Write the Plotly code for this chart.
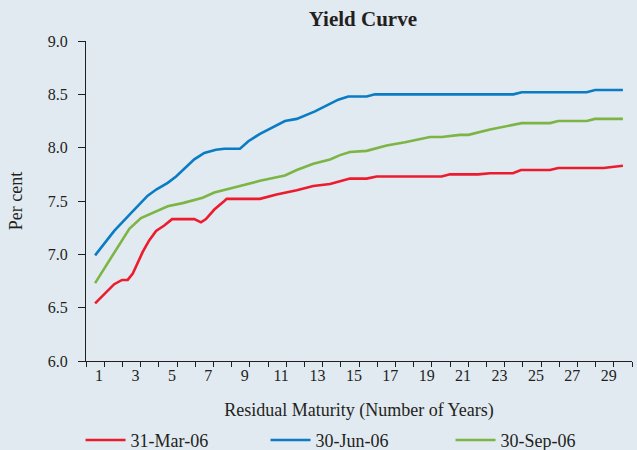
import plotly.graph_objects as go

# Residual maturity (years) and yields (per cent)
mar_x = [1.0, 1.51, 2.05, 2.48, 2.79, 3.07, 3.61, 3.97, 4.35, 4.80, 5.23, 6.45, 6.82, 7.09,
         7.55, 8.10, 8.23, 10.06, 10.97, 12.08, 12.99, 13.91, 15.0, 15.92, 16.47, 20.04,
         20.5, 22.05, 22.7, 23.96, 24.4, 25.99, 26.45, 28.93, 30.0]
mar_y = [6.54, 6.63, 6.72, 6.76, 6.76, 6.82, 7.02, 7.13, 7.22, 7.27, 7.33, 7.33, 7.30, 7.33,
         7.42, 7.50, 7.52, 7.52, 7.56, 7.60, 7.64, 7.66, 7.71, 7.71, 7.73, 7.73,
         7.75, 7.75, 7.76, 7.76, 7.79, 7.79, 7.81, 7.81, 7.83]

jun_x = [1.0, 2.05, 2.88, 3.89, 4.38, 4.99, 5.45, 5.99, 6.45, 7.0, 7.64, 8.10, 8.96, 9.42,
         10.06, 11.43, 12.08, 13.08, 14.36, 14.91, 15.92, 16.38, 23.98, 24.44, 28.01, 28.47, 30.0]
jun_y = [6.99, 7.22, 7.37, 7.55, 7.61, 7.67, 7.73, 7.82, 7.89, 7.95, 7.98, 7.99, 7.99, 8.06,
         8.13, 8.25, 8.27, 8.34, 8.45, 8.48, 8.48, 8.50, 8.50, 8.52, 8.52, 8.54, 8.54]

sep_x = [1.0, 1.97, 2.88, 3.52, 4.35, 4.99, 5.81, 6.91, 7.55, 8.19, 8.96, 10.06, 11.43, 12.08,
         12.99, 13.91, 14.46, 15.0, 15.92, 17.02, 18.03, 19.40, 20.04, 21.05, 21.51, 22.70,
         23.98, 24.44, 26.0, 26.45, 28.01, 28.47, 30.0]
sep_y = [6.73, 6.99, 7.24, 7.34, 7.40, 7.45, 7.48, 7.53, 7.58, 7.61, 7.64, 7.69, 7.74, 7.79,
         7.85, 7.89, 7.93, 7.96, 7.97, 8.02, 8.05, 8.10, 8.10, 8.12, 8.12, 8.17,
         8.21, 8.23, 8.23, 8.25, 8.25, 8.27, 8.27]

series_names = ["31-Mar-06", "30-Jun-06", "30-Sep-06"]
x_tick_vals = list(range(1, 30, 2))
x_tick_text = [str(v) for v in x_tick_vals]
y_tick_vals = [6.0, 6.5, 7.0, 7.5, 8.0, 8.5, 9.0]
y_tick_text = ["6.0", "6.5", "7.0", "7.5", "8.0", "8.5", "9.0"]

colors = ["#EC1C2E", "#0A7CC4", "#7DB544"]
FONT = "Liberation Serif"
TXT = "#231F20"
BG = "#E1E9F1"

fig = go.Figure()
for xs, ys, name, c in zip([mar_x, jun_x, sep_x], [mar_y, jun_y, sep_y], series_names, colors):
    fig.add_trace(go.Scatter(x=xs, y=ys, mode="lines", name=name,
                             line=dict(color=c, width=2.6)))

fig.update_layout(
    width=637, height=450,
    paper_bgcolor=BG, plot_bgcolor=BG,
    margin=dict(l=86, r=5, t=41, b=89, autoexpand=False),
    font=dict(family=FONT, size=16, color=TXT),
    title=dict(text="<b>Yield Curve</b>", font=dict(family=FONT, size=21, color=TXT),
               x=0.507, xref="paper", xanchor="center",
               y=1 - 19 / 450, yref="container", yanchor="middle"),
    showlegend=True,
    legend=dict(orientation="h", x=-0.01, xanchor="left", y=-0.248, yanchor="middle",
                bgcolor="rgba(0,0,0,0)", font=dict(family=FONT, size=18, color=TXT),
                entrywidth=130, entrywidthmode="pixels", itemwidth=40, traceorder="normal"),
)

fig.update_xaxes(
    range=[0.5, 30.5], showgrid=False, zeroline=False,
    showline=True, linecolor="#231F20", linewidth=1.3,
    tickmode="array", tickvals=x_tick_vals, ticktext=x_tick_text,
    ticks="", ticklabelshift=4,
    tickfont=dict(family=FONT, size=16, color=TXT),
    minor=dict(tickmode="linear", tick0=0.5, dtick=1, ticks="outside", ticklen=5,
               tickcolor="#231F20", tickwidth=1.3, showgrid=False),
    title=dict(text="Residual Maturity (Number of Years)", standoff=20,
               font=dict(family=FONT, size=18, color=TXT)),
)
fig.update_yaxes(
    range=[6.0, 9.0], showgrid=False, zeroline=False,
    showline=True, linecolor="#231F20", linewidth=1.3,
    tickmode="array", tickvals=y_tick_vals, ticktext=y_tick_text,
    ticks="outside", ticklen=7, tickcolor="#231F20", tickwidth=1.3,
    ticklabelstandoff=7,
    tickfont=dict(family=FONT, size=16, color=TXT),
    title=dict(text="Per cent", standoff=20, font=dict(family=FONT, size=18, color=TXT)),
)

fig.write_html("out.html", config={"displayModeBar": False},
               post_script="document.body.style.margin='0';document.body.style.padding='0';"
                           "document.body.style.overflow='hidden';")
